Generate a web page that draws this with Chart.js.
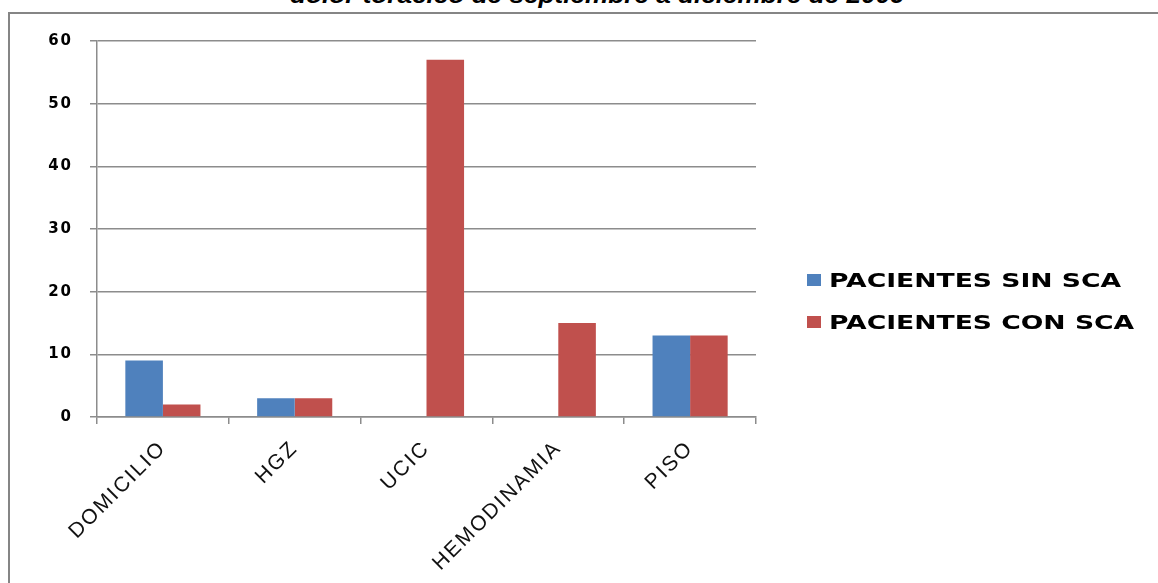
<!DOCTYPE html>
<html>
<head>
<meta charset="utf-8">
<script src="https://cdn.jsdelivr.net/npm/chart.js@4/dist/chart.umd.min.js"></script>
<style>
  html, body { margin: 0; padding: 0; background: #fff; }
  #wrap { position: relative; width: 1158px; height: 583px; overflow: hidden; background: #fff; }
  #frame { position: absolute; left: 8px; top: 12px; width: 1200px; height: 700px;
           border-top: 2px solid #858585; border-left: 2px solid #858585; box-sizing: border-box; }
  #title { position: absolute; left: 597px; top: -16px; white-space: nowrap; transform-origin: 0 0;
           font: italic bold 23px "Liberation Sans", Arial, sans-serif; color: #000; line-height: 23px; }
  #chart { position: absolute; left: 0; top: 0; }
  #legend { position: absolute; left: 807px; top: 266px; }
  .item { position: relative; height: 42px; white-space: nowrap; }
  .box { position: absolute; left: 0; top: 8px; width: 14px; height: 12px; }
  .lbl { position: absolute; left: 22px; top: 0; font: bold 20px "DejaVu Sans", sans-serif; color: #000;
         line-height: 28px; transform-origin: 0 50%; display: inline-block; }
</style>
</head>
<body>
<div id="wrap">
  <div id="frame"></div>
  <div id="title">dolor  torácico de septiembre a diciembre de 2009</div>
  <canvas id="chart" width="1158" height="583"></canvas>
  <div id="legend"></div>
</div>
<script>
const categories = ["DOMICILIO", "HGZ", "UCIC", "HEMODINAMIA", "PISO"];
const seriesNames = ["PACIENTES SIN SCA", "PACIENTES CON SCA"];
const sinSCA = [9, 3, 0, 0, 13];
const conSCA = [2, 3, 57, 15, 13];
const yTicks = [0, 10, 20, 30, 40, 50, 60];
const colors = ["#4f81bd", "#c0504d"];

const gridColor = "#8c8c8c";

// widen text spacing a little, like the stretched glyphs in the reference
const spacingPlugin = {
  id: "spacing",
  beforeDraw(chart) { chart.ctx.letterSpacing = "2px"; }
};

const chart = new Chart(document.getElementById("chart"), {
  type: "bar",
  data: {
    labels: categories,
    datasets: [
      { label: seriesNames[0], data: sinSCA, backgroundColor: colors[0], borderWidth: 0 },
      { label: seriesNames[1], data: conSCA, backgroundColor: colors[1], borderWidth: 0 }
    ]
  },
  plugins: [spacingPlugin],
  options: {
    responsive: false,
    animation: false,
    layout: { padding: { left: 0, top: 41, right: 402, bottom: 0 } },
    plugins: { legend: { display: false }, tooltip: { enabled: false }, title: { display: false } },
    datasets: { bar: { categoryPercentage: 0.57, barPercentage: 1.0 } },
    scales: {
      x: {
        grid: { drawOnChartArea: false, drawTicks: true, tickLength: 7, color: gridColor, lineWidth: 1.5, offset: true },
        border: { display: true, color: gridColor, width: 1.5 },
        ticks: { autoSkip: false, maxRotation: 45, minRotation: 45, padding: 12, color: "#111",
                 font: { family: "'Liberation Sans', Arial, sans-serif", size: 21 } },
        afterFit: (s) => { s.height = 583 - 417; }
      },
      y: {
        min: 0, max: 60,
        afterBuildTicks: (s) => { s.ticks = yTicks.map(v => ({ value: v })); },
        grid: { drawOnChartArea: true, drawTicks: true, tickLength: 7, color: gridColor, lineWidth: 1.5 },
        border: { display: true, color: gridColor, width: 1.5 },
        ticks: { padding: 17, color: "#000", font: { family: "'DejaVu Sans', sans-serif", size: 15, weight: "bold" } },
        afterFit: (s) => { s.width = 97; }
      }
    }
  }
});

// HTML legend built from series names/colors
const legend = document.getElementById("legend");
seriesNames.forEach((name, i) => {
  const item = document.createElement("div");
  item.className = "item";
  const box = document.createElement("div");
  box.className = "box";
  box.style.background = colors[i];
  const lbl = document.createElement("div");
  lbl.className = "lbl";
  lbl.textContent = name;
  item.appendChild(box); item.appendChild(lbl);
  legend.appendChild(item);
});
const labels = document.querySelectorAll(".lbl");
const k = 292 / labels[0].getBoundingClientRect().width;
labels.forEach(el => { el.style.transform = "scaleX(" + k.toFixed(3) + ")"; });

// title: centred at x≈597 and stretched to ≈615px like the reference
const t = document.getElementById("title");
const tw = t.getBoundingClientRect().width;
const tk = 615 / tw;
t.style.left = (597 - 615 / 2) + "px";
t.style.transform = "scaleX(" + tk.toFixed(3) + ")";
</script>
</body>
</html>
